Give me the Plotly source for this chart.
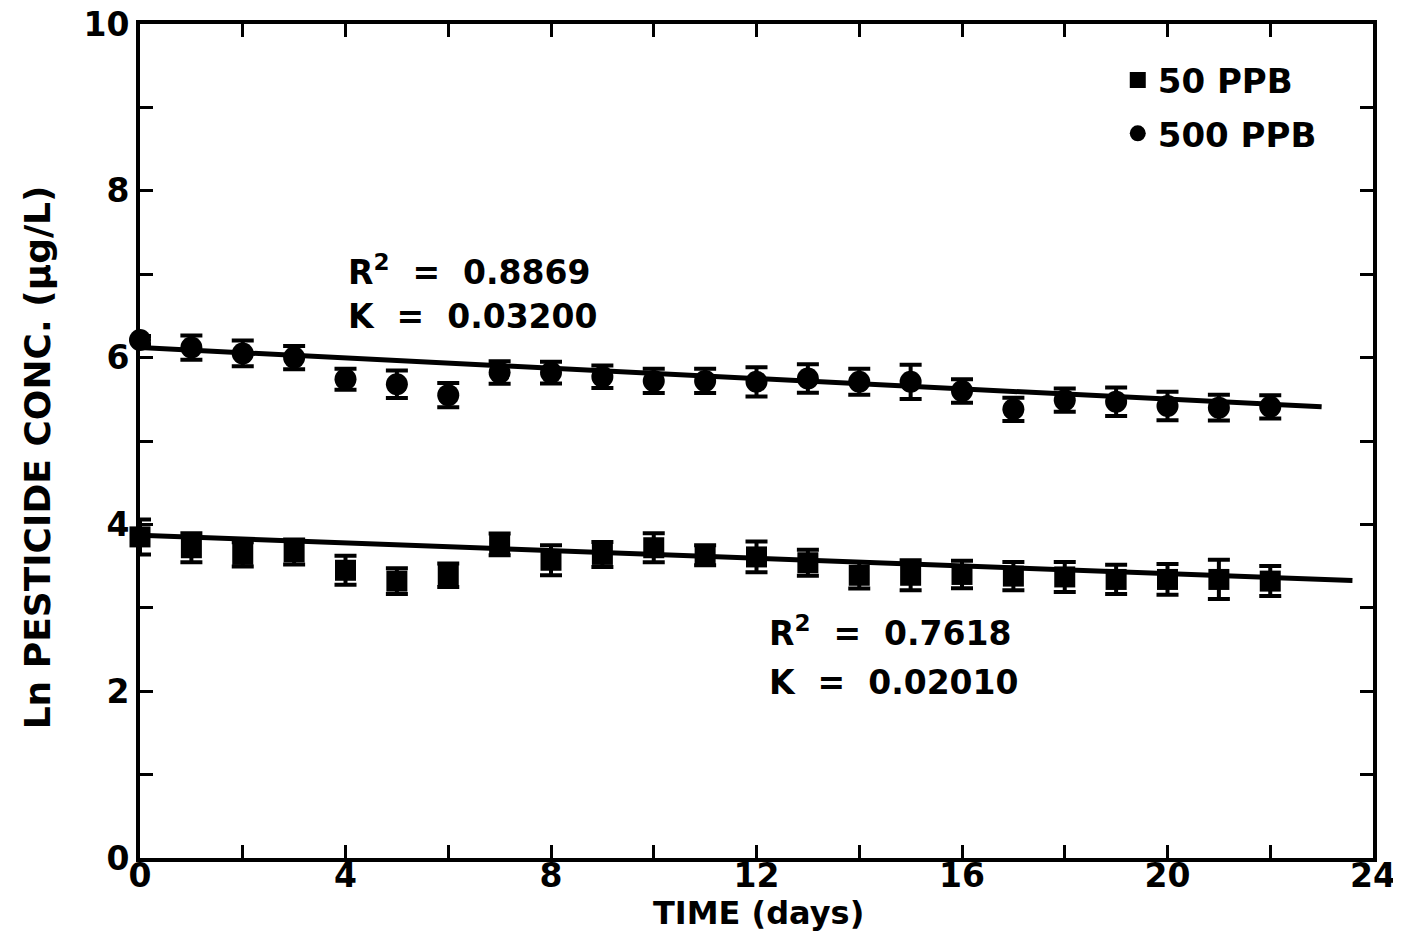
import plotly.graph_objects as go
import numpy as np

# ---- data ----
days = list(range(0, 23))

ppb500 = [6.21, 6.12, 6.05, 6.00, 5.74, 5.68, 5.55, 5.82, 5.82, 5.77, 5.72, 5.72,
          5.71, 5.75, 5.71, 5.71, 5.60, 5.38, 5.49, 5.47, 5.42, 5.40, 5.41]
ppb500_err = [0.05, 0.145, 0.155, 0.14, 0.125, 0.165, 0.145, 0.135, 0.13, 0.135, 0.145, 0.145,
              0.175, 0.17, 0.155, 0.205, 0.14, 0.14, 0.14, 0.17, 0.17, 0.155, 0.14]

ppb50 = [3.85, 3.72, 3.64, 3.67, 3.45, 3.32, 3.39, 3.76, 3.57, 3.64, 3.72, 3.63,
         3.61, 3.54, 3.39, 3.39, 3.40, 3.38, 3.37, 3.34, 3.34, 3.34, 3.32]
ppb50_err = [0.21, 0.175, 0.145, 0.15, 0.175, 0.155, 0.14, 0.13, 0.18, 0.15, 0.175, 0.12,
             0.185, 0.155, 0.16, 0.18, 0.165, 0.17, 0.18, 0.175, 0.185, 0.235, 0.18]

# regression lines (intercept, slope, end day) as drawn
fit500 = dict(a=6.12, b=-0.0309, x_end=23.0)
fit50 = dict(a=3.87, b=-0.0230, x_end=23.6)

x_tickvals = list(range(0, 25, 2))
x_ticktext = ["0", "", "4", "", "8", "", "12", "", "16", "", "20", "", "24"]
y_tickvals = list(range(0, 11))
y_ticktext = ["0", "", "2", "", "4", "", "6", "", "8", "", "10"]

labels = ["50 PPB", "500 PPB"]
NB = "\u00a0"
stats500 = ["R<sup>2</sup>" + NB * 2 + "=" + NB * 2 + "0.8869", "K" + NB * 2 + "=" + NB * 2 + "0.03200"]
stats50 = ["R<sup>2</sup>" + NB * 2 + "=" + NB * 2 + "0.7618", "K" + NB * 2 + "=" + NB * 2 + "0.02010"]
x_title = "TIME (days)"
y_title = "Ln PESTICIDE CONC. (µg/L)"

FONT = "DejaVu Sans"
def fnt(size):
    return dict(family=FONT, size=size, color="black", weight="bold")

fig = go.Figure()

for f in (fit500, fit50):
    xs = np.array([0.0, f["x_end"]])
    fig.add_trace(go.Scatter(x=xs, y=f["a"] + f["b"] * xs, mode="lines",
                             line=dict(color="black", width=5), showlegend=False,
                             hoverinfo="skip"))

fig.add_trace(go.Scatter(
    x=days, y=ppb50, mode="markers", name=labels[0], legendgroup="a",
    marker=dict(symbol="square", size=21, color="black"),
    error_y=dict(type="data", array=ppb50_err, color="black", thickness=4, width=11),
    cliponaxis=False))
fig.add_trace(go.Scatter(
    x=days, y=ppb500, mode="markers", name=labels[1], legendgroup="b",
    marker=dict(symbol="circle", size=22, color="black"),
    error_y=dict(type="data", array=ppb500_err, color="black", thickness=4, width=11),
    cliponaxis=False))

# statistics text blocks
for txt, yy in zip(stats500, [7.04, 6.49]):
    fig.add_annotation(x=4.0, y=yy, xref="x", yref="y", text=txt, showarrow=False,
                       xanchor="left", yanchor="middle", font=fnt(33))
for txt, yy in zip(stats50, [2.71, 2.11]):
    fig.add_annotation(x=12.2, y=yy, xref="x", yref="y", text=txt, showarrow=False,
                       xanchor="left", yanchor="middle", font=fnt(33))

# axis titles
fig.add_annotation(x=0.502, y=-0.0665, xref="paper", yref="paper", text=x_title,
                   showarrow=False, xanchor="center", yanchor="middle", font=fnt(32))
fig.add_annotation(x=-0.083, y=0.48, xref="paper", yref="paper", text=y_title,
                   showarrow=False, xanchor="center", yanchor="middle", textangle=-90,
                   font=fnt(36))

axis_common = dict(showgrid=False, zeroline=False, showline=True, linecolor="black",
                   linewidth=4, ticks="inside", ticklen=13, tickwidth=3,
                   tickcolor="black", mirror="ticks", automargin=False,
                   ticklabeloverflow="allow", tickfont=fnt(33))

fig.update_xaxes(range=[0, 24], tickvals=x_tickvals, ticktext=x_ticktext,
                 ticklabelstandoff=-15, **axis_common)
fig.update_yaxes(range=[0, 10], tickvals=y_tickvals, ticktext=y_ticktext, **axis_common)

fig.update_layout(
    width=1401, height=939,
    margin=dict(l=132, r=36, t=16, b=89),
    plot_bgcolor="white", paper_bgcolor="white",
    legend=dict(x=0.793, y=0.967, xanchor="left", yanchor="top",
                bgcolor="rgba(0,0,0,0)", itemsizing="trace",
                font=fnt(34), tracegroupgap=6),
)

fig.write_html("out.html")
